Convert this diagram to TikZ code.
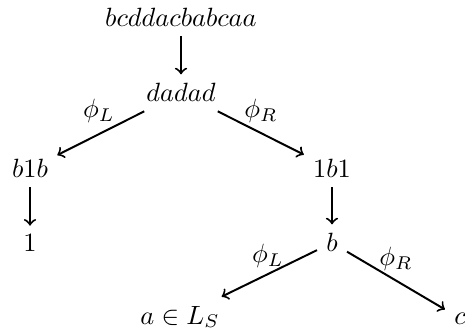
\documentclass[tikz,border=0pt]{standalone}
\begin{document}
\begin{tikzpicture}[x=0.3788pt, y=-0.3788pt,
  word/.style={anchor=base, inner sep=3.333pt},
  lab/.style={anchor=base, inner sep=0pt},
  arr/.style={->, line width=0.75pt}]
\useasboundingbox (0,0) rectangle (465,335);
% words of the derivation tree
\node[word] (w0) at (181,27) {$bcddacbabcaa$};
\node[word] (w1) at (181,102) {$dadad$};
\node[word] (w2) at (30,178) {$b1b$};
\node[word] (w3) at (332,178) {$1b1$};
\node[word] (w4) at (30,252) {$1$};
\node[word] (w5) at (332,252) {$b$};
\node[word] (w6) at (180,324) {$a\in L_S$};
\node[word] (w7) at (460,324) {$c$};
% edges
\draw[arr] (w0) -- (w1);
\draw[arr] (w1) -- (w2);
\draw[arr] (w1) -- (w3);
\draw[arr] (w2) -- (w4);
\draw[arr] (w3) -- (w5);
\draw[arr] (w5) -- (w6);
\draw[arr] (w5) -- (w7);
% edge labels
\node[lab] (l1) at (99,118) {$\phi_L$};
\node[lab] (l2) at (261,118) {$\phi_R$};
\node[lab] (l3) at (268,263) {$\phi_L$};
\node[lab] (l4) at (396,266) {$\phi_R$};
\end{tikzpicture}
\end{document}
